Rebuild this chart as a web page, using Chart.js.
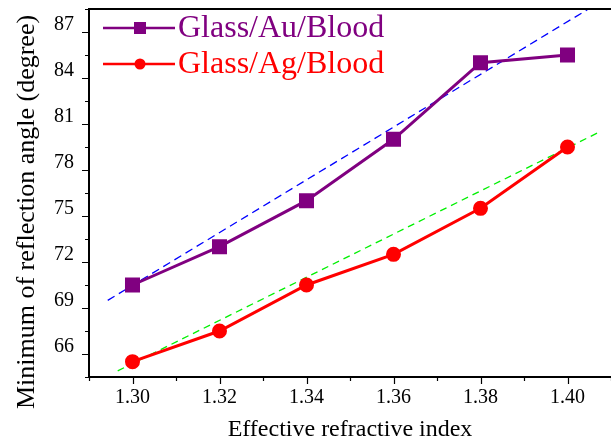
<!DOCTYPE html>
<html>
<head>
<meta charset="utf-8">
<script src="https://cdn.jsdelivr.net/npm/chart.js@4.4.1/dist/chart.umd.min.js"></script>
<style>
  html, body { margin: 0; padding: 0; background: #fff; }
  #wrap { width: 611px; height: 439px; }
</style>
</head>
<body>
<div id="wrap"><canvas id="c" width="611" height="439"></canvas></div>
<script>
// data
const refIndex = [1.30, 1.32, 1.34, 1.36, 1.38, 1.40];
const auAngles = [70, 72.5, 75.5, 79.5, 84.5, 85];
const agAngles = [65, 67, 70, 72, 75, 79];
// dashed fit lines, end points
const auFit = [{ x: 1.2943, y: 69.0 }, { x: 1.4048, y: 88.0 }];
const agFit = [{ x: 1.2966, y: 64.4 }, { x: 1.4075, y: 80.0 }];
const xTicks = [1.30, 1.32, 1.34, 1.36, 1.38, 1.40];
const yTicks = [66, 69, 72, 75, 78, 81, 84, 87];
const seriesNames = ['Glass/Au/Blood', 'Glass/Ag/Blood'];
const yTitle = 'Minimum of reflection angle (degree)';

const PURPLE = '#800080';
const RED = '#ff0000';
const SERIF = '"Liberation Serif", "Times New Roman", serif';

function toPoints(xs, ys) {
    return xs.map(function (x, i) { return { x: x, y: ys[i] }; });
}

// axis box, outward ticks (major + minor), legend, y title
const framePlugin = {
    id: 'frame',
    afterDraw: function (chart) {
        const ctx = chart.ctx;
        const a = chart.chartArea;
        const xs = chart.scales.x, ys = chart.scales.y;
        const L = Math.round(a.left), T = Math.round(a.top), B = Math.round(a.bottom);
        const W = Math.round(a.right) - L;
        ctx.save();
        ctx.fillStyle = '#000';
        ctx.fillRect(L - 1, B - 1, W + 1, 2);   // bottom axis
        ctx.fillRect(L - 1, T - 1, 2, B - T);   // left axis
        ctx.fillRect(L - 1, T - 1, W + 1, 2);   // top frame

        ctx.strokeStyle = '#000';
        ctx.lineWidth = 1.2;
        ctx.beginPath();
        for (let i = 0; i <= 12; i++) {
            const v = 1.29 + i * 0.01;
            const px = Math.round(xs.getPixelForValue(v)) + 0.5;
            const len = (i % 2 === 1) ? 7 : 4;
            ctx.moveTo(px, B); ctx.lineTo(px, B + len);
        }
        for (let i = 0; i <= 16; i++) {
            const v = 64 + i * 1.5;
            const py = Math.round(ys.getPixelForValue(v)) + 0.5;
            const len = (i % 2 === 1) ? 7 : 4;
            ctx.moveTo(L, py); ctx.lineTo(L - len, py);
        }
        ctx.stroke();

        // y title, a bit below the axis centre as in the original
        ctx.font = '26px ' + SERIF;
        ctx.textAlign = 'center';
        ctx.textBaseline = 'middle';
        ctx.translate(27, 212);
        ctx.rotate(-Math.PI / 2);
        ctx.fillText(yTitle, 0, 0);
        ctx.setTransform(1, 0, 0, 1, 0, 0);

        // legend
        const rows = [
            { color: PURPLE, style: 'rect', y: 28 },
            { color: RED, style: 'circle', y: 64 }
        ];
        rows.forEach(function (r, i) {
            ctx.strokeStyle = r.color;
            ctx.fillStyle = r.color;
            ctx.lineWidth = 2.5;
            ctx.beginPath();
            ctx.moveTo(103, r.y); ctx.lineTo(175, r.y);
            ctx.stroke();
            if (r.style === 'rect') {
                ctx.fillRect(134, r.y - 6, 12, 12);
            } else {
                ctx.beginPath();
                ctx.arc(140, r.y, 5.5, 0, Math.PI * 2);
                ctx.fill();
            }
            ctx.font = '32px ' + SERIF;
            ctx.textBaseline = 'alphabetic';
            ctx.textAlign = 'left';
            ctx.fillText(seriesNames[i], 178, r.y + 9);
        });
        ctx.restore();
    }
};

new Chart(document.getElementById('c').getContext('2d'), {
    type: 'line',
    data: {
        datasets: [{
            label: seriesNames[0],
            data: toPoints(refIndex, auAngles),
            borderColor: PURPLE,
            backgroundColor: PURPLE,
            borderWidth: 3,
            pointStyle: 'rect',
            pointRadius: 8.5,
            tension: 0,
            order: 1
        }, {
            label: seriesNames[1],
            data: toPoints(refIndex, agAngles),
            borderColor: RED,
            backgroundColor: RED,
            borderWidth: 3,
            pointStyle: 'circle',
            pointRadius: 6,
            tension: 0,
            order: 1
        }, {
            label: 'fit Au',
            data: auFit,
            borderColor: '#0000ff',
            borderWidth: 1.3,
            borderDash: [8, 5],
            pointRadius: 0,
            order: 2
        }, {
            label: 'fit Ag',
            data: agFit,
            borderColor: '#00f000',
            borderWidth: 1.3,
            borderDash: [7, 5],
            pointRadius: 0,
            order: 2
        }]
    },
    options: {
        responsive: false,
        animation: false,
        layout: { autoPadding: false, padding: { top: 9, right: 0, left: 0, bottom: 0 } },
        plugins: { legend: { display: false }, tooltip: { enabled: false } },
        scales: {
            x: {
                type: 'linear',
                min: 1.29,
                max: 1.41,
                afterBuildTicks: function (s) { s.ticks = xTicks.map(function (v) { return { value: v }; }); },
                afterFit: function (s) { s.height = 62; s.paddingLeft = 0; s.paddingRight = 0; },
                grid: { display: false, drawTicks: false },
                border: { display: false },
                ticks: {
                    color: '#000',
                    padding: 9,
                    maxRotation: 0,
                    font: { family: SERIF, size: 20 },
                    callback: function (v) { return v.toFixed(2); }
                },
                title: {
                    display: true,
                    text: 'Effective refractive index',
                    color: '#000',
                    font: { family: SERIF, size: 24 },
                    padding: { top: 0, bottom: -5 }
                }
            },
            y: {
                type: 'linear',
                min: 64,
                max: 88,
                afterBuildTicks: function (s) { s.ticks = yTicks.map(function (v) { return { value: v }; }); },
                afterFit: function (s) { s.width = 89; s.paddingTop = 0; s.paddingBottom = 0; },
                grid: { display: false, drawTicks: false },
                border: { display: false },
                ticks: {
                    color: '#000',
                    padding: 15,
                    font: { family: SERIF, size: 20 }
                },
                title: { display: false }
            }
        }
    },
    plugins: [framePlugin]
});
</script>
</body>
</html>
